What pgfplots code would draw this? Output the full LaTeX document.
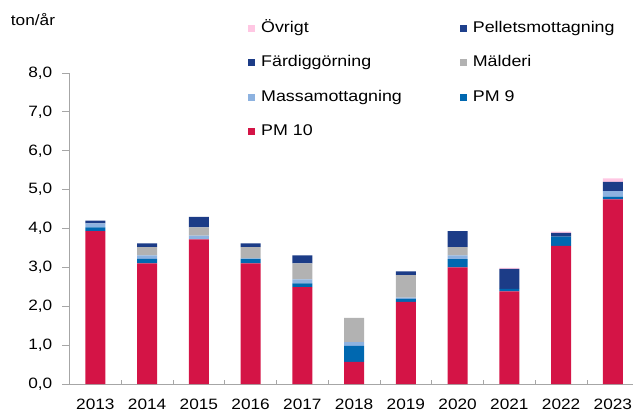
\documentclass[border=0pt]{standalone}
\usepackage{fontspec}
\setmainfont{Liberation Sans}[FakeStretch=1.15]
\usepackage{pgfplots}
\pgfplotsset{compat=1.18}
\usepackage{pgfplotstable}
\definecolor{cPMten}{RGB}{212,20,70}
\definecolor{cPMnine}{RGB}{0,104,176}
\definecolor{cMassa}{RGB}{141,178,224}
\definecolor{cMald}{RGB}{178,178,178}
\definecolor{cFard}{RGB}{28,60,135}
\definecolor{cPell}{RGB}{30,64,140}
\definecolor{cOvr}{RGB}{255,199,227}
\definecolor{axgray}{RGB}{166,166,166}

\pgfplotstableread{
x  pmten pmnine massa mald fard pell ovr
0  3.93  0.10   0.10  0.00 0.07 0.00 0.00
1  3.10  0.12   0.09  0.21 0.10 0.00 0.00
2  3.72  0.00   0.10  0.21 0.27 0.00 0.00
3  3.10  0.12   0.01  0.29 0.10 0.00 0.00
4  2.49  0.10   0.10  0.41 0.21 0.00 0.00
5  0.57  0.41   0.10  0.62 0.00 0.00 0.00
6  2.11  0.08   0.03  0.58 0.10 0.00 0.00
7  3.00  0.21   0.10  0.21 0.41 0.00 0.00
8  2.38  0.07   0.00  0.00 0.51 0.00 0.03
9  3.55  0.24   0.00  0.00 0.10 0.00 0.03
10 4.75  0.07   0.14  0.00 0.24 0.00 0.09
}\data

\begin{document}
\fontsize{15bp}{18bp}\selectfont
\begin{tikzpicture}
\begin{axis}[
  scale only axis,
  width=563.5bp, height=311bp,
  ybar stacked,
  bar width=20bp,
  xmin=-0.5, xmax=10.389,
  ymin=0, ymax=8,
  axis x line*=bottom,
  axis y line*=left,
  axis line style={axgray, line width=0.8bp},
  every axis plot/.append style={draw=none},
  xtick={0,1,...,10},
  xticklabels={2013,2014,2015,2016,2017,2018,2019,2020,2021,2022,2023},
  minor xtick={0.5,1.5,...,9.5},
  major x tick style={draw=none},
  minor x tick style={axgray, line width=0.8bp, yshift=4bp},
  minor tick length=4bp,
  ytick={0,1,...,8},
  major tick length=7bp,
  tick align=outside,
  ytick style={axgray, line width=0.8bp},
  /pgf/number format/assume math mode=true,
  yticklabel style={/pgf/number format/fixed, /pgf/number format/fixed zerofill, /pgf/number format/precision=1, /pgf/number format/use comma},
  yticklabel style={font=\fontsize{15bp}{18bp}\selectfont, inner sep=0pt, xshift=-10bp},
  xticklabel style={font=\fontsize{15bp}{18bp}\selectfont, inner sep=0pt, text height=11bp, text depth=0pt, yshift=-7bp},
  legend columns=2,
  legend cell align=left,
  legend style={at={(axis description cs:0,1)}, anchor=north west,
    xshift=178.5bp, yshift=52bp, draw=none, fill=none, inner sep=0pt,
    font=\fontsize{15.5bp}{18bp}\selectfont,
    nodes={inner sep=0pt, text height=11bp, text depth=3bp},
    row sep=20.5bp,
    /tikz/every odd column/.append style={column sep=6bp},
    /tikz/every even column/.append style={column sep=58bp}},
  legend image code/.code={\fill[#1] (0bp,-3.5bp) rectangle (7bp,3.5bp);},
  legend plot pos=left,
  reverse legend,
]
\addplot[fill=cPMten] table[x=x,y=pmten]{\data};
\addlegendentry{PM 10}
\addplot[fill=cPMnine] table[x=x,y=pmnine]{\data};
\addlegendentry{PM 9}
\addplot[fill=cMassa] table[x=x,y=massa]{\data};
\addlegendentry{Massamottagning}
\addplot[fill=cMald] table[x=x,y=mald]{\data};
\addlegendentry{Mälderi}
\addplot[fill=cFard] table[x=x,y=fard]{\data};
\addlegendentry{Färdiggörning}
\addplot[fill=cPell] table[x=x,y=pell]{\data};
\addlegendentry{Pelletsmottagning}
\addplot[fill=cOvr] table[x=x,y=ovr]{\data};
\addlegendentry{Övrigt}
\coordinate (O) at (rel axis cs:0,0);
\coordinate (T) at (rel axis cs:0,1);
\end{axis}
\node[inner sep=0pt, anchor=center] at ([xshift=-36.5bp, yshift=53bp]T) {ton/år};
\pgfresetboundingbox
\path[use as bounding box] ([xshift=-69.5bp,yshift=-28bp]O) rectangle ([xshift=563.5bp,yshift=384bp]O);
\end{tikzpicture}
\end{document}
